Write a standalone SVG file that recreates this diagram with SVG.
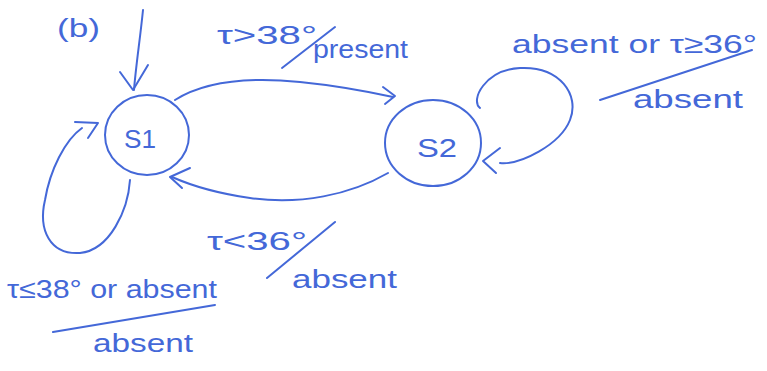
<svg xmlns="http://www.w3.org/2000/svg" width="767" height="371" viewBox="0 0 767 371">
<style>
.ink{fill:none;stroke:#4468d8;stroke-width:2;stroke-linecap:round;stroke-linejoin:round}
text{fill:#4468d8;font-family:"Liberation Sans","DejaVu Sans",sans-serif;font-size:26px}
.c{text-anchor:middle}
</style>
<rect width="767" height="371" fill="#ffffff"/>
<g id="S1">
<ellipse class="ink" cx="147" cy="135" rx="42" ry="40"/>
<text class="c" x="140" y="148" font-size="36" textLength="32" lengthAdjust="spacingAndGlyphs">S1</text>
</g>
<g id="S2">
<ellipse class="ink" cx="433" cy="143" rx="48" ry="43"/>
<text class="c" x="437" y="157" font-size="32" textLength="40" lengthAdjust="spacingAndGlyphs">S2</text>
</g>
<g id="connectors">
<path class="ink" d="M143,10 C140,40 136,65 134,90"/>
<path class="ink" d="M120,72 L133,90 L148,65"/>
<path class="ink" d="M175,100 C210,78 260,78 300,82 C340,86 370,92 393,97"/>
<path class="ink" d="M383,87 L395,96 L385,104"/>
<path class="ink" d="M388,173 C350,195 300,205 250,198 C215,193 190,185 172,177"/>
<path class="ink" d="M190,168 L170,177 L182,188"/>
<path class="ink" d="M480,108 C470,100 485,70 520,68 C560,66 580,95 570,120 C560,145 520,165 500,163"/>
<path class="ink" d="M500,148 L483,161 L496,173"/>
<path class="ink" d="M130,180 C128,210 110,250 80,253 C50,255 38,230 45,200 C50,170 65,140 82,128"/>
<path class="ink" d="M75,122 L98,123 L88,138"/>
</g>
<g id="labels">
<text x="57" y="37" textLength="43" lengthAdjust="spacingAndGlyphs">(b)</text>
<text x="217" y="44" font-size="28" textLength="100" lengthAdjust="spacingAndGlyphs">τ&gt;38°</text>
<path class="ink" d="M282,68 L335,27"/>
<text x="313" y="58" font-size="24" textLength="95" lengthAdjust="spacingAndGlyphs">present</text>
<text x="512" y="53" textLength="245" lengthAdjust="spacingAndGlyphs">absent or τ≥36°</text>
<path class="ink" d="M600,100 L752,50"/>
<text x="633" y="108" font-size="28" textLength="110" lengthAdjust="spacingAndGlyphs">absent</text>
<text x="207" y="250" font-size="30" textLength="100" lengthAdjust="spacingAndGlyphs">τ&lt;36°</text>
<path class="ink" d="M267,278 L335,222"/>
<text x="292" y="288" textLength="105" lengthAdjust="spacingAndGlyphs">absent</text>
<text x="7" y="298" textLength="210" lengthAdjust="spacingAndGlyphs">τ≤38° or absent</text>
<path class="ink" d="M53,332 L215,305"/>
<text x="93" y="352" textLength="100" lengthAdjust="spacingAndGlyphs">absent</text>
</g>
</svg>
